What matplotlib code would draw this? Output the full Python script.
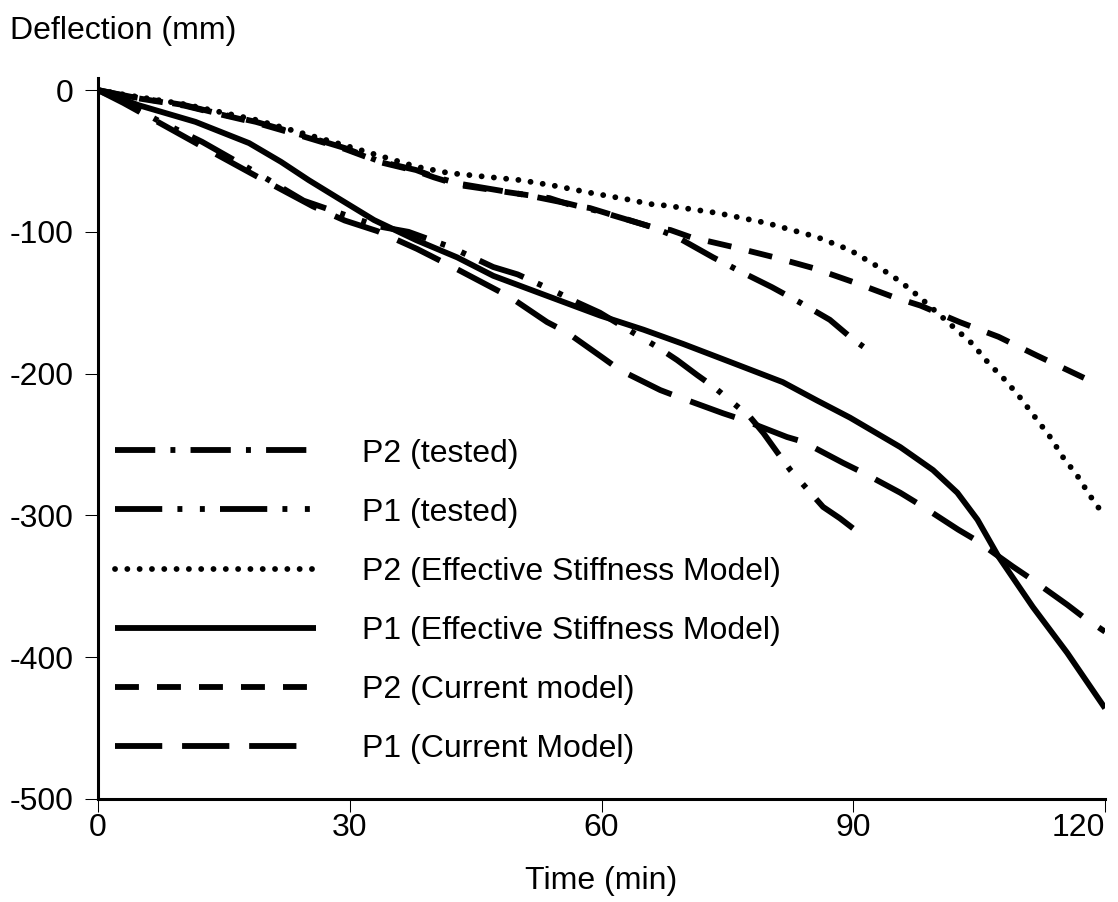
import matplotlib.pyplot as plt

plt.rcParams["font.family"] = ["Liberation Sans", "DejaVu Sans"]
plt.rcParams["font.size"] = 23
plt.rcParams["axes.unicode_minus"] = False

# P2 - fire test
t_p2_tested = [0, 3.9, 10.3, 14.1, 18.8, 23.5, 29.4, 33.7, 37.9, 40, 43, 51, 56, 60, 66,
               69, 73.3, 76.9, 80.3, 83.7, 87.2, 90, 91.2]
d_p2_tested = [0, -4.7, -10.6, -16.2, -22.4, -30.3, -40.9, -50.6, -56.4, -61, -66, -74, -80, -86, -96.6,
               -103.7, -118, -129, -139, -150, -162, -176, -181]

# P1 - fire test
t_p1_tested = [0, 3, 7, 12.4, 18.8, 24.5, 29.4, 33.3, 37, 42, 47.1, 50, 54.8, 57.2, 59.8,
               62.6, 66.6, 69, 71.4, 73.3, 77.7, 79.3, 81, 82.5, 86.4, 88.4, 90.6]
d_p1_tested = [0, -8, -21, -36.5, -58, -78, -88, -96, -100, -110.7, -124.8, -130, -143, -150, -157,
               -167, -181, -190.4, -201, -209, -230.6, -242, -256, -268, -294, -302, -312]

# P2 - effective stiffness model
t_p2_esm = [0, 3.9, 10.3, 18.8, 29.4, 37.9, 41.8, 46, 50.3, 54.6, 58.8, 63, 65.8, 67.8,
            73.8, 79.7, 85.7, 89.6, 93.2, 95.6, 97.7, 100, 102.1, 104.2, 106.1, 108.1,
            109.9, 111.7, 113.5, 115, 116.7, 118.2, 120]
d_p2_esm = [0, -4, -10, -21, -39, -54, -58.5, -61, -63.5, -67.7, -72.6, -77, -80.4, -81.5,
            -86.7, -93.8, -103.7, -112.8, -125.5, -135, -145, -157, -168, -179, -192.5, -204.5,
            -217, -231, -245, -259, -272, -286, -301]

# P1 - effective stiffness model
t_p1_esm = [0, 4.8, 11.6, 18, 21.8, 25.1, 28.6, 32.9, 37.9, 42.8, 47.1, 53.9, 59.8, 65,
            69.7, 75, 81.6, 85.7, 89.6, 95.6, 99.5, 102.4, 104.8, 107.3, 111.4, 115.5, 120]
d_p1_esm = [0, -10.6, -22.4, -37.4, -50.6, -63.5, -76.2, -91.7, -105.8, -118, -131, -146, -159, -169,
            -179, -191, -206, -219, -231, -251.8, -268, -284, -303, -329, -364.6, -397, -436]

# P2 - current model
t_p2_current = [0, 3.9, 10.3, 14.1, 18.8, 23.5, 29.4, 33.7, 37.9, 40, 43, 51.1, 53.8, 56.3, 58.6,
                66, 68.2, 70.6, 75.7, 80.5, 85.2, 90, 94.8, 98, 102.7, 107.3, 111.9, 117.5]
d_p2_current = [0, -5, -11, -16.5, -23, -31, -41.5, -51, -57, -61.5, -67, -74, -76.2, -81, -83.2,
                -96.6, -98.7, -103.7, -110.7, -117.8, -125.5, -135.4, -146, -152, -163.7, -174,
                -187.3, -203]

# P1 - current model
t_p1_current = [0, 3, 7.1, 12, 18.8, 25.6, 29.4, 33.3, 38, 43, 49.1, 53.5, 55.9, 60.2, 62.2, 67,
                69.4, 74.5, 76.9, 82.1, 84, 88.8, 91.2, 95.6, 98, 102.5, 104.5, 109, 111, 115.5,
                117.4, 120]
d_p1_current = [0, -9, -22.4, -38.5, -60.5, -82, -92, -99.5, -112, -127, -146, -163.6, -171, -189,
                -197.5, -211.6, -217, -228, -232.7, -244.7, -248, -263, -270, -284, -292.7, -310,
                -317, -336, -344, -363, -371.6, -382]

x_ticks = [0, 30, 60, 90, 120]
y_ticks = [0, -100, -200, -300, -400, -500]

LW = 4.2
series = [
    (t_p2_tested, d_p2_tested, "P2 (tested)", (0, (6.9, 2.6, 0.85, 2.6)), "butt"),
    (t_p1_tested, d_p1_tested, "P1 (tested)", (0, (8.1, 2.6, 0.85, 3.0, 0.85, 2.6)), "butt"),
    (t_p2_esm, d_p2_esm, "P2 (Effective Stiffness Model)", (0, (0.01, 2.1)), "round"),
    (t_p1_esm, d_p1_esm, "P1 (Effective Stiffness Model)", "-", "butt"),
    (t_p2_current, d_p2_current, "P2 (Current model)", (0, (4.1, 3.1)), "butt"),
    (t_p1_current, d_p1_current, "P1 (Current Model)", (0, (8.1, 3.4)), "butt"),
]

fig = plt.figure(figsize=(11.18, 9.02), dpi=100)
ax = fig.add_axes([0.0877, 0.1142, 0.9007, 0.7993])

for t, d, name, ls, cap in series:
    ax.plot(t, d, color="black", lw=LW, linestyle=ls, dash_capstyle=cap,
            solid_capstyle="butt", label=name)

ax.set_xlim(0, 120)
ax.set_ylim(-500, 8.5)
ax.set_xticks(x_ticks)
ax.set_yticks(y_ticks)
ax.tick_params(direction="out", length=9.4, width=0.75, color="black")
ax.tick_params(axis="x", pad=1)
ax.tick_params(axis="y", pad=8.5)
ax.get_xticklabels()[-1].set_horizontalalignment("right")

for side in ["top", "right"]:
    ax.spines[side].set_visible(False)
for side in ["left", "bottom"]:
    ax.spines[side].set_linewidth(2.2)

ax.set_xlabel("Time (min)", labelpad=16)
fig.text(10 / 1118, 1 - 31 / 902, "Deflection (mm)", ha="left", va="center")

ax.legend(loc="upper left", bbox_to_anchor=(0.0169, 0.4999), frameon=False,
          handlelength=6.3, handletextpad=1.42, labelspacing=0.91,
          borderpad=0, borderaxespad=0)

fig.savefig("out.png", dpi=100)
